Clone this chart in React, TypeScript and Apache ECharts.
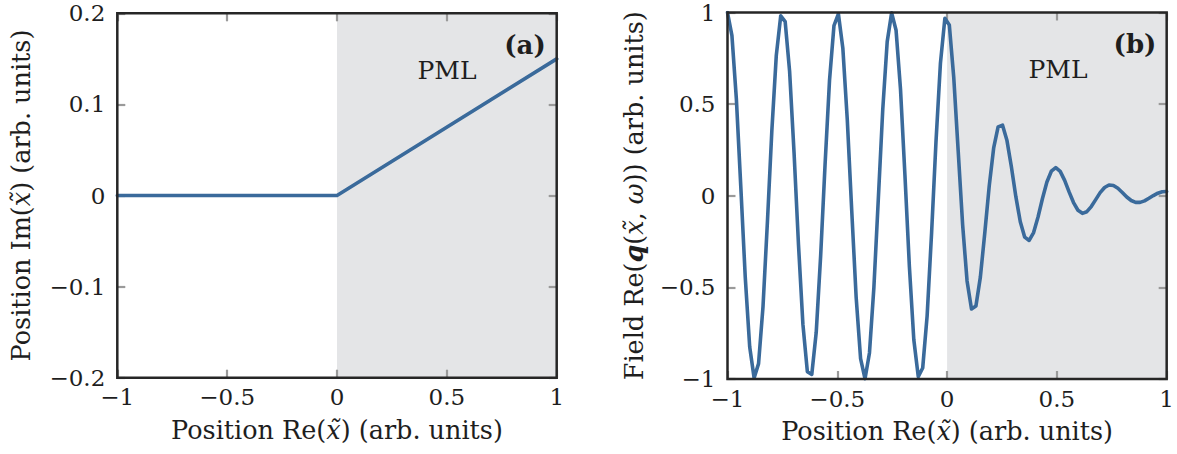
import { useEffect, useRef } from "react";
import * as echarts from "echarts";

// Panel (a): complex coordinate stretching, Im(x~) against Re(x~)
const stretchRe = [-1, 0, 1];
const stretchIm = [0, 0, 0.15];

// Panel (b): field samples on a uniform grid of 100 points over [-1, 1]
const FIELD_SAMPLES = 100;
const fieldRe = [
  1.0, 0.874, 0.527, 0.048, -0.444, -0.824, -0.995, -0.916, -0.606, -0.142,
  0.357, 0.766, 0.982, 0.95, 0.679, 0.236, -0.266, -0.702, -0.96, -0.975,
  -0.745, -0.327, 0.174, 0.631, 0.928, 0.992, 0.805, 0.415, -0.079, -0.554,
  -0.889, -0.999, -0.858, -0.5, -0.016, 0.472, 0.841, 0.998, 0.903, 0.58,
  0.111, -0.386, -0.786, -0.987, -0.94, -0.655, -0.205, 0.297, 0.724, 0.968,
  0.932, 0.646, 0.245, -0.157, -0.465, -0.618, -0.602, -0.444, -0.202, 0.054,
  0.261, 0.376, 0.385, 0.301, 0.157, -0.005, -0.142, -0.226, -0.244, -0.201,
  -0.116, -0.015, 0.075, 0.134, 0.154, 0.133, 0.084, 0.021, -0.037, -0.079,
  -0.096, -0.087, -0.059, -0.021, 0.017, 0.045, 0.059, 0.056, 0.041, 0.018,
  -0.007, -0.026, -0.036, -0.036, -0.028, -0.014, 0.001, 0.014, 0.022, 0.023,
];

// Shared axis extents and the absorbing-layer span
const X_RANGE = [-1, 1];
const X_STEP = 0.5;
const IM_RANGE = [-0.2, 0.2];
const IM_STEP = 0.1;
const FIELD_RANGE = [-1, 1];
const FIELD_STEP = 0.5;
const pmlSpan = [0, 1];

const FONT = "'DejaVu Serif', serif";
const INK = "#1e1e1e";
const CURVE = "#3a6a9b";
const PML_FILL = "#e4e5e7";
const FRAME = "#262626";
const TICK = "#9a9a9a";

const fmt = (v: number) => {
  const r = Math.round(v * 100) / 100;
  return (r === 0 ? "0" : String(r)).replace("-", "\u2212");
};

const tick = { show: true, inside: true, length: 8, lineStyle: { color: TICK, width: 2.2 } };
const labelStyle = { fontFamily: FONT, fontSize: 23, color: INK };

const NAME_SIZE = 25.5;
const richName = {
  fontFamily: FONT,
  fontSize: NAME_SIZE,
  color: INK,
  rich: {
    t: { fontFamily: FONT, fontSize: NAME_SIZE, color: INK },
    m: { fontFamily: FONT, fontSize: NAME_SIZE, color: INK, fontStyle: "italic" },
    q: { fontFamily: FONT, fontSize: NAME_SIZE, color: INK, fontStyle: "italic", fontWeight: "bold" },
  },
};

const hiddenLine = { show: false, onZero: false };

function xAxes(gridIndex: number, name: string) {
  const base = {
    type: "value",
    gridIndex,
    min: X_RANGE[0],
    max: X_RANGE[1],
    interval: X_STEP,
    z: 3,
    axisLine: hiddenLine,
    axisTick: tick,
    splitLine: { show: false },
  };
  return [
    {
      ...base,
      position: "bottom",
      axisLabel: { ...labelStyle, formatter: fmt, margin: 8 },
      name,
      nameLocation: "middle",
      nameGap: 39,
      nameTextStyle: richName,
    },
    { ...base, position: "top", axisLabel: { show: false } },
  ];
}

function yAxes(gridIndex: number, range: number[], step: number, name: string, gap: number) {
  const base = {
    type: "value",
    gridIndex,
    min: range[0],
    max: range[1],
    interval: step,
    z: 3,
    axisLine: hiddenLine,
    axisTick: tick,
    splitLine: { show: false },
  };
  return [
    {
      ...base,
      position: "left",
      axisLabel: { ...labelStyle, formatter: fmt, margin: 12 },
      name,
      nameLocation: "middle",
      nameRotate: 90,
      nameGap: gap,
      nameTextStyle: richName,
    },
    { ...base, position: "right", axisLabel: { show: false } },
  ];
}

function pmlShade(axisIndex: number, top: number) {
  return {
    type: "line",
    xAxisIndex: axisIndex,
    yAxisIndex: axisIndex,
    data: pmlSpan.map((x) => [x, top]),
    symbol: "none",
    silent: true,
    z: 1,
    lineStyle: { width: 0, color: PML_FILL },
    areaStyle: { color: PML_FILL, opacity: 1, origin: "start" },
  };
}

function curve(axisIndex: number, data: number[][]) {
  return {
    type: "line",
    xAxisIndex: axisIndex,
    yAxisIndex: axisIndex,
    data,
    symbol: "none",
    silent: true,
    z: 4,
    lineStyle: { width: 3.6, color: CURVE, join: "round", cap: "round" },
  };
}

const frame = {
  show: true,
  z: 10,
  backgroundColor: "transparent",
  borderColor: FRAME,
  borderWidth: 2.5,
};

export default function App() {
  const ref = useRef<HTMLDivElement>(null);

  useEffect(() => {
    if (!ref.current) return;
    const chart = echarts.init(ref.current, null, { renderer: "svg" });

    const stretchData = stretchRe.map((x, i) => [x, stretchIm[i]]);
    const fieldData = fieldRe.map((v, i) => [
      X_RANGE[0] + ((X_RANGE[1] - X_RANGE[0]) * i) / (FIELD_SAMPLES - 1),
      v,
    ]);

    chart.setOption({
      animation: false,
      backgroundColor: "#ffffff",
      grid: [
        { ...frame, left: 117.3, top: 13.3, width: 439.4, height: 364.4 },
        { ...frame, left: 727.5, top: 12.5, width: 439.2, height: 366.5 },
      ],
      xAxis: [
        ...xAxes(0, "{t|Position Re(}{m|x\u0303}{t|) (arb. units)}"),
        ...xAxes(1, "{t|Position Re(}{m|x\u0303}{t|) (arb. units)}"),
      ],
      yAxis: [
        ...yAxes(0, IM_RANGE, IM_STEP, "{t|Position Im(}{m|x\u0303}{t|) (arb. units)}", 83),
        ...yAxes(
          1,
          FIELD_RANGE,
          FIELD_STEP,
          "{t|Field Re(}{q|q}{t|(}{m|x\u0303}{t|, }{m|\u03c9}{t|)) (arb. units)}",
          81
        ),
      ],
      series: [
        pmlShade(0, IM_RANGE[1]),
        curve(0, stretchData),
        pmlShade(2, FIELD_RANGE[1]),
        curve(2, fieldData),
      ],
      graphic: [
        {
          type: "text",
          x: 525,
          y: 45,
          style: {
            text: "(a)",
            font: `bold 26px ${FONT}`,
            fill: INK,
            align: "center",
            verticalAlign: "middle",
          },
          z: 20,
        },
        {
          type: "text",
          x: 447,
          y: 70,
          style: { text: "PML", font: `25px ${FONT}`, fill: INK, align: "center", verticalAlign: "middle" },
          z: 20,
        },
        {
          type: "text",
          x: 1135,
          y: 44,
          style: {
            text: "(b)",
            font: `bold 26px ${FONT}`,
            fill: INK,
            align: "center",
            verticalAlign: "middle",
          },
          z: 20,
        },
        {
          type: "text",
          x: 1058,
          y: 69,
          style: { text: "PML", font: `25px ${FONT}`, fill: INK, align: "center", verticalAlign: "middle" },
          z: 20,
        },
      ],
    });

    return () => chart.dispose();
  }, []);

  return (
    <div
      ref={ref}
      style={{ position: "absolute", left: 0, top: 0, width: 1177, height: 454 }}
    />
  );
}
